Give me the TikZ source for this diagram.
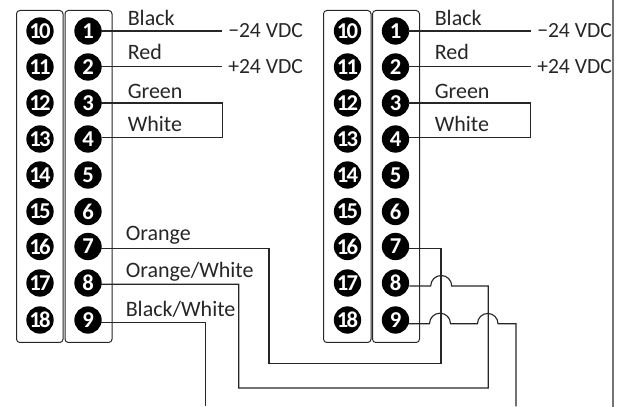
\documentclass[tikz,border=0pt]{standalone}
\usepackage{fontspec}
\setmainfont{Carlito}
\tikzset{
  pin/.style={circle,fill=black,text=white,inner sep=0pt,minimum size=20.5pt,font=\fontsize{17}{17}\selectfont\bfseries\addfontfeature{LetterSpace=-7}},
  housing/.style={draw=black!85,line width=0.75pt,rounded corners=2.5pt},
  wire/.style={draw=black!85,line width=0.85pt,shorten <=-1pt},
  color label/.style={anchor=base west,inner sep=0pt,text=black!85,font=\fontsize{16.5}{16.5}\selectfont},
  volt label/.style={anchor=west,inner sep=0pt,inner xsep=4.5pt,text=black!85,font=\fontsize{16.2}{16.2}\selectfont}
}
\begin{document}
\begin{tikzpicture}[x=0.75pt,y=0.75pt]
   \useasboundingbox (0,0) rectangle (625,407);
   % left connector
   \draw[housing] (16.5,64.5) rectangle (63,396.5);
   \draw[housing] (65,64.5) rectangle (112,396.5);
   \node (aj10) at (40,376) [pin] {10};
   \node (aj11) at (40,340) [pin] {11};
   \node (aj12) at (40,304) [pin] {12};
   \node (aj13) at (40,268) [pin] {13};
   \node (aj14) at (40,232) [pin] {14};
   \node (aj15) at (40,195.5) [pin] {15};
   \node (aj16) at (40,160.5) [pin] {16};
   \node (aj17) at (40,124) [pin] {17};
   \node (aj18) at (40,87) [pin] {18};
   \node (aj1) at (88,376) [pin] {1};
   \node (aj2) at (88,340) [pin] {2};
   \node (aj3) at (88,304) [pin] {3};
   \node (aj4) at (88,268) [pin] {4};
   \node (aj5) at (88,232) [pin] {5};
   \node (aj6) at (88,195.5) [pin] {6};
   \node (aj7) at (88,160.5) [pin] {7};
   \node (aj8) at (88,124) [pin] {8};
   \node (aj9) at (88,87) [pin] {9};
   % right connector
   \draw[housing] (323.5,64.5) rectangle (371,396.5);
   \draw[housing] (372.5,64.5) rectangle (419.5,396.5);
   \node (bj10) at (347.5,376) [pin] {10};
   \node (bj11) at (347.5,340) [pin] {11};
   \node (bj12) at (347.5,304) [pin] {12};
   \node (bj13) at (347.5,268) [pin] {13};
   \node (bj14) at (347.5,232) [pin] {14};
   \node (bj15) at (347.5,195.5) [pin] {15};
   \node (bj16) at (347.5,160.5) [pin] {16};
   \node (bj17) at (347.5,124) [pin] {17};
   \node (bj18) at (347.5,87) [pin] {18};
   \node (bj1) at (395.5,376) [pin] {1};
   \node (bj2) at (395.5,340) [pin] {2};
   \node (bj3) at (395.5,304) [pin] {3};
   \node (bj4) at (395.5,268) [pin] {4};
   \node (bj5) at (395.5,232) [pin] {5};
   \node (bj6) at (395.5,195.5) [pin] {6};
   \node (bj7) at (395.5,160.5) [pin] {7};
   \node (bj8) at (395.5,124) [pin] {8};
   \node (bj9) at (395.5,87) [pin] {9};
   % wire labels
   \node (lblack) at (127.5,381) [color label] {Black};
   \node (lred) at (127.5,347.7) [color label] {Red};
   \node (lgreen) at (127.5,308.7) [color label] {Green};
   \node (lwhite) at (127.5,275) [color label] {White};
   \node (lorange) at (125.5,166.3) [color label] {Orange};
   \node (lorangew) at (125.5,129.7) [color label] {Orange/White};
   \node (lblackw) at (125.5,90.3) [color label] {Black/White};
   \node (rblack) at (434.5,381) [color label] {Black};
   \node (rred) at (434.5,347.7) [color label] {Red};
   \node (rgreen) at (434.5,308.7) [color label] {Green};
   \node (rwhite) at (434.5,275) [color label] {White};
   \node (lminus) at (222,376) [volt label] {−24 VDC};
   \node (lplus) at (222,340.5) [volt label] {+24 VDC};
   \node (rminus) at (531,376) [volt label] {−24 VDC};
   \node (rplus) at (531,340.5) [volt label] {+24 VDC};
   % wire corners
   \coordinate (lc3) at (222.5,304);
   \coordinate (lc4) at (222.5,269.5);
   \coordinate (rc3) at (530.5,304);
   \coordinate (rc4) at (530.5,269.5);
   \coordinate (or1) at (269,158.5);
   \coordinate (or2) at (441,158.5);
   \coordinate (orw1) at (238.7,122.7);
   \coordinate (orw2) at (488.3,121);
   \coordinate (hop8a) at (430.7,121);
   \coordinate (hop8b) at (451.7,121);
   \coordinate (blw1) at (205.3,84.7);
   \coordinate (blwend) at (205.3,0.5);
   \coordinate (hop9a) at (429.5,83.3);
   \coordinate (hop9c) at (477.5,83.3);
   \coordinate (blw2) at (516,83.3);
   \coordinate (blw2end) at (516,0.5);
   \coordinate (orlow) at (269,43.3);
   \coordinate (orwlow) at (238.7,19);
   % wires
   \draw[wire] (aj1.east) -- (lminus.west);
   \draw[wire] (aj2.east |- lplus) -- (lplus.west);
   \draw[wire] (aj3.east) -- (lc3) -- (lc4) -- (aj4.east |- lc4);
   \draw[wire] (bj1.east) -- (rminus.west);
   \draw[wire] (bj2.east |- rplus) -- (rplus.west);
   \draw[wire] (bj3.east) -- (rc3) -- (rc4) -- (bj4.east |- rc4);
   \draw[wire] (aj7.east |- or1) -- (or1) -- (orlow) -| (or2) -- (bj7.east |- or2);
   \draw[wire] (aj8.east |- orw1) -- (orw1) -- (orwlow) -| (orw2) -- (hop8b) arc[start angle=0,end angle=180,radius=10.5] -- (bj8.east |- hop8a);
   \draw[wire] (aj9.east |- blw1) -- (blw1) -- (blwend);
   \draw[wire] (bj9.east |- hop9a) -- (hop9a) arc[start angle=180,end angle=0,radius=10.5] -- (hop9c) arc[start angle=180,end angle=0,radius=10.25] -- (blw2) -- (blw2end);
   % frame edge
   \draw[black!55,line width=1.1pt] (613,0) -- (613,407);
\end{tikzpicture}
\end{document}
